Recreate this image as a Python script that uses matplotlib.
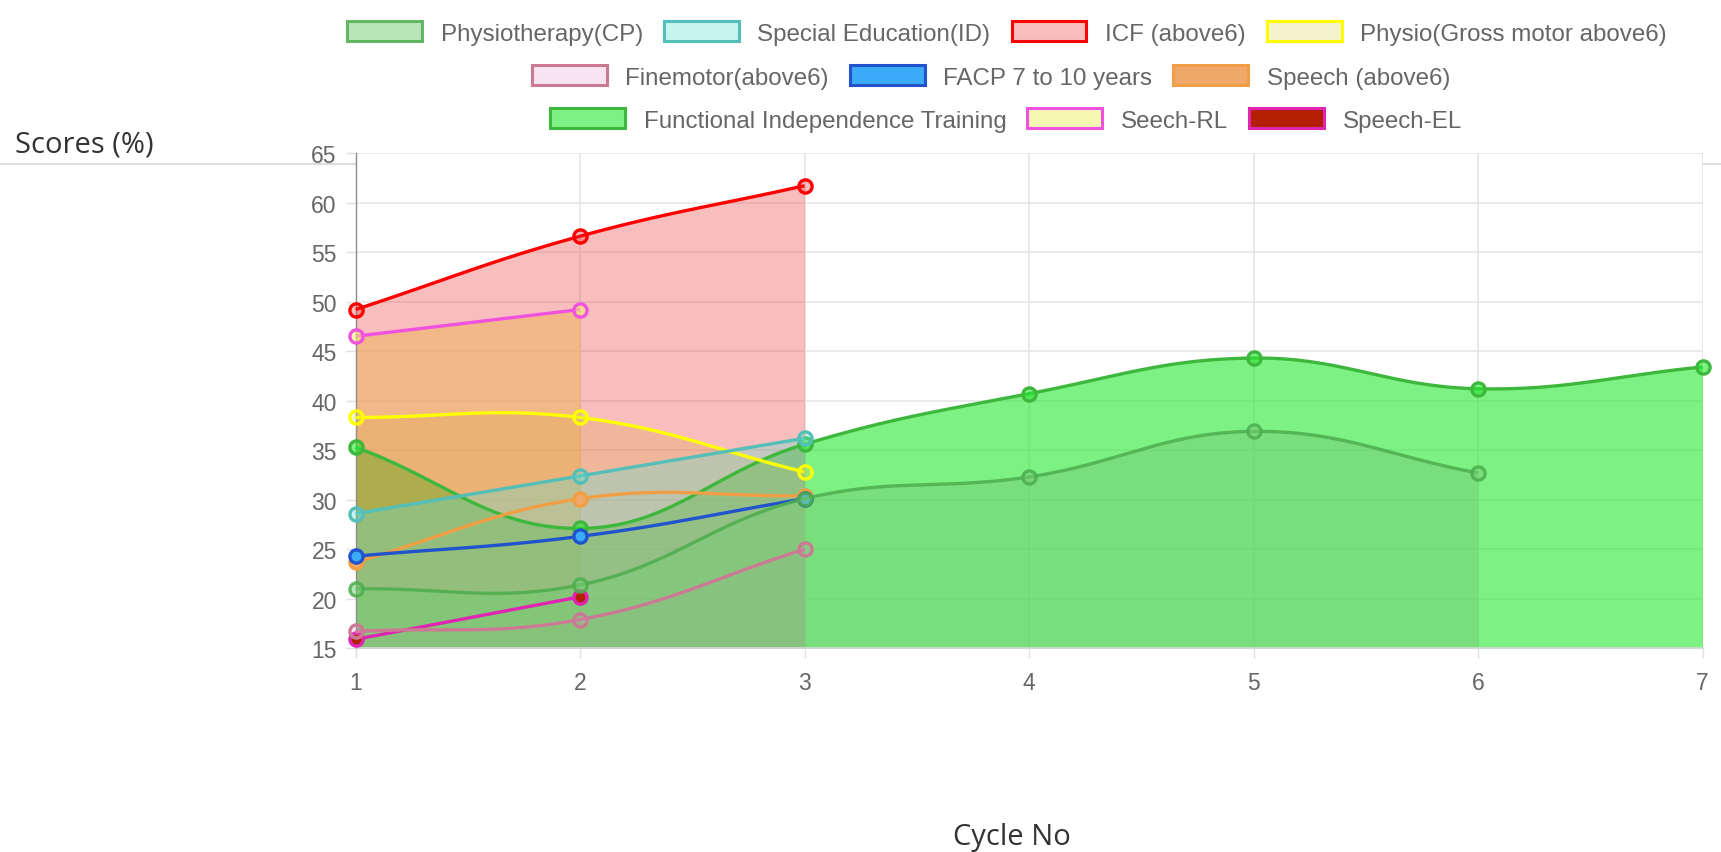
import numpy as np
import matplotlib
matplotlib.use("Agg")
import matplotlib.pyplot as plt
from matplotlib.patches import Patch
from matplotlib.lines import Line2D

# data
cycles = [1, 2, 3, 4, 5, 6, 7]
physio_cp = [21.0, 21.4, 30.1, 32.3, 36.9, 32.7]
special_ed = [28.6, 32.4, 36.2]
icf = [49.2, 56.6, 61.7]
physio_gross = [38.3, 38.3, 32.8]
finemotor = [16.7, 17.9, 25.0]
facp = [24.3, 26.3, 30.1]
speech_above6 = [23.7, 30.1, 30.4]
fit = [35.3, 27.1, 35.6, 40.7, 44.3, 41.2, 43.4]
seech_rl = [46.5, 49.2]
speech_el = [15.9, 20.2]

# name, values, border, background, filled
datasets = [
    ("Physiotherapy(CP)", physio_cp, (0.30, 0.68, 0.30, 0.85), (0.46, 0.81, 0.46, 0.50), True),
    ("Special Education(ID)", special_ed, (0.33, 0.75, 0.72, 1.0), (0.39, 0.88, 0.82, 0.35), True),
    ("ICF (above6)", icf, (1.0, 0.0, 0.0, 1.0), (0.92, 0.16, 0.16, 0.30), True),
    ("Physio(Gross motor above6)", physio_gross, (1.0, 1.0, 0.0, 1.0), (0.84, 0.84, 0.31, 0.28), True),
    ("Finemotor(above6)", finemotor, (0.80, 0.48, 0.58, 1.0), (0.86, 0.52, 0.75, 0.22), True),
    ("FACP 7 to 10 years", facp, (0.13, 0.33, 0.80, 1.0), (0.23, 0.67, 0.97, 1.0), False),
    ("Speech (above6)", speech_above6, (0.95, 0.62, 0.27, 1.0), (0.94, 0.66, 0.41, 1.0), False),
    ("Functional Independence Training", fit, (0.24, 0.72, 0.24, 1.0), (0.16, 0.91, 0.20, 0.60), True),
    ("Seech-RL", seech_rl, (0.94, 0.32, 0.88, 1.0), (0.95, 0.95, 0.45, 0.55), True),
    ("Speech-EL", speech_el, (0.88, 0.14, 0.70, 1.0), (0.70, 0.12, 0.0, 1.0), False),
]

# pixels per data unit, used for the chart.js style spline control points
PX_X = 224.4
PX_Y = 9.9
TENSION = 0.4


def spline(xs, ys, n=60):
    """Chart.js (v2) splineCurve interpolation, done in pixel space."""
    px = np.array(xs, dtype=float) * PX_X
    py = np.array(ys, dtype=float) * PX_Y
    m = len(px)
    if m < 3:
        return np.array(xs, float), np.array(ys, float)
    cp_prev = []
    cp_next = []
    for i in range(m):
        prev_i = max(i - 1, 0)
        next_i = min(i + 1, m - 1)
        d01 = np.hypot(px[i] - px[prev_i], py[i] - py[prev_i])
        d12 = np.hypot(px[next_i] - px[i], py[next_i] - py[i])
        tot = d01 + d12
        s01 = d01 / tot if tot else 0
        s12 = d12 / tot if tot else 0
        fa = TENSION * s01
        fb = TENSION * s12
        dx = px[next_i] - px[prev_i]
        dy = py[next_i] - py[prev_i]
        cp_prev.append((px[i] - fa * dx, py[i] - fa * dy))
        cp_next.append((px[i] + fb * dx, py[i] + fb * dy))
    out_x, out_y = [], []
    t = np.linspace(0, 1, n)
    for i in range(m - 1):
        p0 = np.array([px[i], py[i]])
        p1 = np.array(cp_next[i])
        p2 = np.array(cp_prev[i + 1])
        p3 = np.array([px[i + 1], py[i + 1]])
        seg = ((1 - t) ** 3)[:, None] * p0 + (3 * (1 - t) ** 2 * t)[:, None] * p1 \
            + (3 * (1 - t) * t ** 2)[:, None] * p2 + (t ** 3)[:, None] * p3
        if i > 0:
            seg = seg[1:]
        out_x.extend(seg[:, 0])
        out_y.extend(seg[:, 1])
    return np.array(out_x) / PX_X, np.array(out_y) / PX_Y


W, H = 1721, 853
fig = plt.figure(figsize=(W / 100, H / 100), dpi=100)
ax = fig.add_axes([355.6 / W, 1 - 649.3 / H, (1702.5 - 355.6) / W, (649.3 - 154) / H])

n = len(datasets)
# fills first (last dataset at the bottom), then lines and points
for i in range(n - 1, -1, -1):
    name, vals, border, bg, filled = datasets[i]
    xs = cycles[:len(vals)]
    sx, sy = spline(xs, vals)
    if filled:
        ax.fill_between(sx, sy, 15, color=bg, linewidth=0, zorder=2 + (n - i) * 0.01)

for i in range(n - 1, -1, -1):
    name, vals, border, bg, filled = datasets[i]
    xs = cycles[:len(vals)]
    sx, sy = spline(xs, vals)
    z = 5 + (n - i) * 0.1
    ax.plot(sx, sy, color=border, lw=2.4, zorder=z, solid_capstyle="butt", clip_on=False)
    ax.plot(xs, vals, "o", ms=9.5, mfc=bg, mec=border, mew=2.4, zorder=z + 0.05, clip_on=False)

ax.set_xlim(1, 7)
ax.set_ylim(15, 65)
ax.set_xticks(cycles)
ax.set_yticks(range(15, 66, 5))
ax.grid(True, color="#e6e6e6", lw=1.2, zorder=0)
ax.set_axisbelow(True)
for side in ["top", "right"]:
    ax.spines[side].set_visible(False)
ax.spines["left"].set_color("#8c8c8c")
ax.spines["left"].set_linewidth(1.0)
ax.spines["bottom"].set_color("#d9d9d9")
ax.spines["bottom"].set_linewidth(1.2)
ax.tick_params(axis="both", colors="#e0e0e0", length=7.5, width=1.0,
               labelcolor="#666666", labelsize=16.5)
ax.tick_params(axis="x", pad=9)
ax.tick_params(axis="y", pad=6)
for lab in ax.get_xticklabels() + ax.get_yticklabels():
    lab.set_family("Liberation Sans")

# legend, three centred rows
rows = [(0, 4, 1007, 34), (4, 7, 991, 78), (7, 10, 1006, 121)]
for a, b, cx, cy in rows:
    handles = [Patch(facecolor=datasets[k][3], edgecolor=datasets[k][2], linewidth=2.2)
               for k in range(a, b)]
    labels = [datasets[k][0] for k in range(a, b)]
    leg = fig.legend(handles, labels, loc="center", bbox_to_anchor=(cx / W, 1 - cy / H),
                     ncol=b - a, frameon=False, handlelength=3.1, handleheight=0.91,
                     handletextpad=0.77, columnspacing=0.87, borderaxespad=0, borderpad=0,
                     prop={"family": "Liberation Sans", "size": 17.4})
    for t in leg.get_texts():
        t.set_color("#666666")

fig.text(15 / W, 1 - 145 / H, "Scores (%)", ha="left", va="center",
         family="Open Sans", size=21, color="#333333")
fig.text(1012 / W, 1 - 838 / H, "Cycle No", ha="center", va="center",
         family="Open Sans", size=21, color="#333333")
fig.add_artist(Line2D([0, 1], [1 - 165 / H, 1 - 165 / H], transform=fig.transFigure,
                      color="#dedede", lw=1.5, zorder=-1))

fig.savefig("out.png", dpi=100)
